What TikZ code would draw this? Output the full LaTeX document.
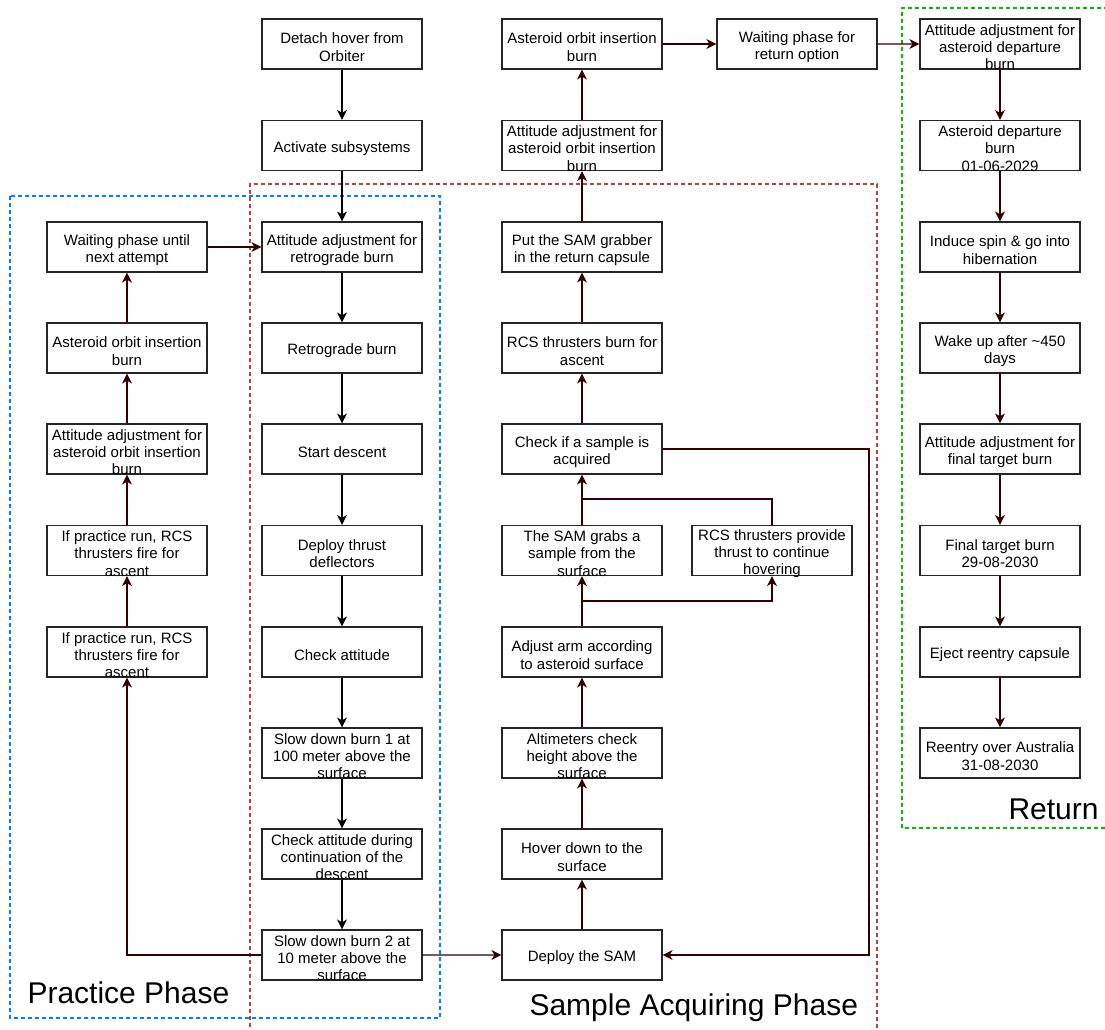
\documentclass[tikz,border=0pt]{standalone}
\usepackage{fontspec}
\setmainfont{Liberation Sans}
\usetikzlibrary{arrows.meta}
\definecolor{linkred}{HTML}{330000}
\definecolor{phaseblue}{HTML}{007FFF}
\definecolor{phasered}{HTML}{C04040}
\definecolor{phasegreen}{HTML}{00C000}
% taller first line, so the text sits a little low in its box
\newcommand\tallfirst{\rule{0pt}{17pt}}
\begin{document}
\begin{tikzpicture}[x=1pt,y=-1pt,
  stepbox/.style={draw=black!85,line width=1.2pt,fill=white,minimum width=160pt,
    minimum height=50pt,inner xsep=0pt,inner ysep=-2.5pt,align=center,
    font=\fontsize{15}{17.3}\selectfont},
  flow/.style={draw=black,line width=1.2pt,-{Stealth[length=10pt,width=10pt,inset=3pt]}},
  link/.style={draw=linkred,line width=1.2pt,-{Stealth[length=10pt,width=10pt,inset=3pt]}},
  plainlink/.style={draw=linkred,line width=1.2pt},
  phase/.style={line width=1.1pt,dash pattern=on 4pt off 3pt},
  phaselabel/.style={anchor=base west,font=\fontsize{30}{34}\selectfont}]
\useasboundingbox (0,0) rectangle (1105,1030);
\fill[white] (0,0) rectangle (1105,1030);

% phase frames
\draw[phase,draw=phaseblue] (10,196) rectangle (440,1018);
\draw[phase,draw=phasered] (250,1034) -- (250,184) -- (877,184) -- (877,1034);
\draw[phase,draw=phasegreen] (1108,8) -- (902,8) -- (902,828) -- (1108,828);

% descent column
\node[stepbox] (detach)  at (342,44)    {\tallfirst Detach hover from\\Orbiter};
\node[stepbox] (activ)   at (342,145.5) {\tallfirst Activate subsystems};
\node[stepbox] (attret)  at (342,247)   {\tallfirst Attitude adjustment for\\retrograde burn};
\node[stepbox] (retro)   at (342,348)   {\tallfirst Retrograde burn};
\node[stepbox] (descent) at (342,449)   {\tallfirst Start descent};
\node[stepbox] (deflect) at (342,550.5) {\tallfirst Deploy thrust\\deflectors};
\node[stepbox] (chkatt)  at (342,652)   {\tallfirst Check attitude};
\node[stepbox] (slowA)   at (342,753)   {\tallfirst Slow down burn 1 at\\100 meter above the\\surface};
\node[stepbox] (chkcont) at (342,854)   {\tallfirst Check attitude during\\continuation of the\\descent};
\node[stepbox] (slowB)   at (342,955)   {\tallfirst Slow down burn 2 at\\10 meter above the\\surface};

% practice column
\node[stepbox] (pwait)   at (127,247)   {\tallfirst Waiting phase until\\next attempt};
\node[stepbox] (paoi)    at (127,348)   {\tallfirst Asteroid orbit insertion\\burn};
\node[stepbox] (patt)    at (127,449)   {\tallfirst Attitude adjustment for\\asteroid orbit insertion\\burn};
\node[stepbox] (prcsA)   at (127,550.5) {\tallfirst If practice run, RCS\\thrusters fire for\\ascent};
\node[stepbox] (prcsB)   at (127,652)   {\tallfirst If practice run, RCS\\thrusters fire for\\ascent};

% sample column
\node[stepbox] (saoi)    at (582,44)    {\tallfirst Asteroid orbit insertion\\burn};
\node[stepbox] (satt)    at (582,145.5) {\tallfirst Attitude adjustment for\\asteroid orbit insertion\\burn};
\node[stepbox] (stow)    at (582,247)   {\tallfirst Put the SAM grabber\\in the return capsule};
\node[stepbox] (ascent)  at (582,348)   {\tallfirst RCS thrusters burn for\\ascent};
\node[stepbox] (check)   at (582,449)   {\tallfirst Check if a sample is\\acquired};
\node[stepbox] (grab)    at (582,550.5) {\tallfirst The SAM grabs a\\sample from the\\surface};
\node[stepbox] (arm)     at (582,652)   {\tallfirst Adjust arm according\\to asteroid surface};
\node[stepbox] (altim)   at (582,753)   {\tallfirst Altimeters check\\height above the\\surface};
\node[stepbox] (hover)   at (582,854)   {\tallfirst Hover down to the\\surface};
\node[stepbox] (deploy)  at (582,955)   {\tallfirst Deploy the SAM};
\node[stepbox] (keephov) at (772,550.5) {\tallfirst RCS thrusters provide\\thrust to continue\\hovering};
\node[stepbox] (rwait)   at (797,44)    {\tallfirst Waiting phase for\\return option};

% return column
\node[stepbox] (ratt)    at (1000,44)    {\tallfirst Attitude adjustment for\\asteroid departure\\burn};
\node[stepbox] (rdep)    at (1000,145.5) {\tallfirst Asteroid departure\\burn\\01-06-2029};
\node[stepbox] (rspin)   at (1000,247)   {\tallfirst Induce spin \& go into\\hibernation};
\node[stepbox] (rwake)   at (1000,348)   {\tallfirst Wake up after \textasciitilde450\\days};
\node[stepbox] (rfatt)   at (1000,449)   {\tallfirst Attitude adjustment for\\final target burn};
\node[stepbox] (rfin)    at (1000,550.5) {\tallfirst Final target burn\\29-08-2030};
\node[stepbox] (reject)  at (1000,652)   {\tallfirst Eject reentry capsule};
\node[stepbox] (rentry)  at (1000,753)   {\tallfirst Reentry over Australia\\31-08-2030};

% phase labels
\node[phaselabel] (lblp) at (24,1003)  {Practice Phase};
\node[phaselabel] (lbls) at (526,1015) {Sample Acquiring Phase};
\node[phaselabel] (lblr) at (1005,819) {Return};

% descent flow
\draw[flow] (detach) -- (activ);
\draw[flow] (activ) -- (attret);
\draw[flow] (attret) -- (retro);
\draw[flow] (retro) -- (descent);
\draw[flow] (descent) -- (deflect);
\draw[flow] (deflect) -- (chkatt);
\draw[flow] (chkatt) -- (slowA);
\draw[flow] (slowA) -- (chkcont);
\draw[flow] (chkcont) -- (slowB);

% practice loop
\draw[link] (slowB.west) -| (prcsB.south);
\draw[link] (prcsB) -- (prcsA);
\draw[link] (prcsA) -- (patt);
\draw[link] (patt) -- (paoi);
\draw[link] (paoi) -- (pwait);
\draw[link] (pwait) -- (attret);

% sample acquisition
\coordinate (splitlow) at (582,601);
\coordinate (splithigh) at (582,499);
\coordinate (retcorner) at (869,449);
\draw[link] (slowB) -- (deploy);
\draw[link] (deploy) -- (hover);
\draw[link] (hover) -- (altim);
\draw[link] (altim) -- (arm);
\draw[link] (arm) -- (grab);
\draw[link] (splitlow) -| (keephov.south);
\draw[link] (grab) -- (check);
\draw[plainlink] (keephov.north) |- (splithigh);
\draw[link] (check.east) -- (retcorner) |- (deploy.east);
\draw[link] (check) -- (ascent);
\draw[link] (ascent) -- (stow);
\draw[link] (stow) -- (satt);
\draw[link] (satt) -- (saoi);
\draw[link] (saoi) -- (rwait);
\draw[link] (rwait) -- (ratt);

% return flow
\draw[link] (ratt) -- (rdep);
\draw[link] (rdep) -- (rspin);
\draw[link] (rspin) -- (rwake);
\draw[link] (rwake) -- (rfatt);
\draw[link] (rfatt) -- (rfin);
\draw[link] (rfin) -- (reject);
\draw[link] (reject) -- (rentry);
\end{tikzpicture}
\end{document}
